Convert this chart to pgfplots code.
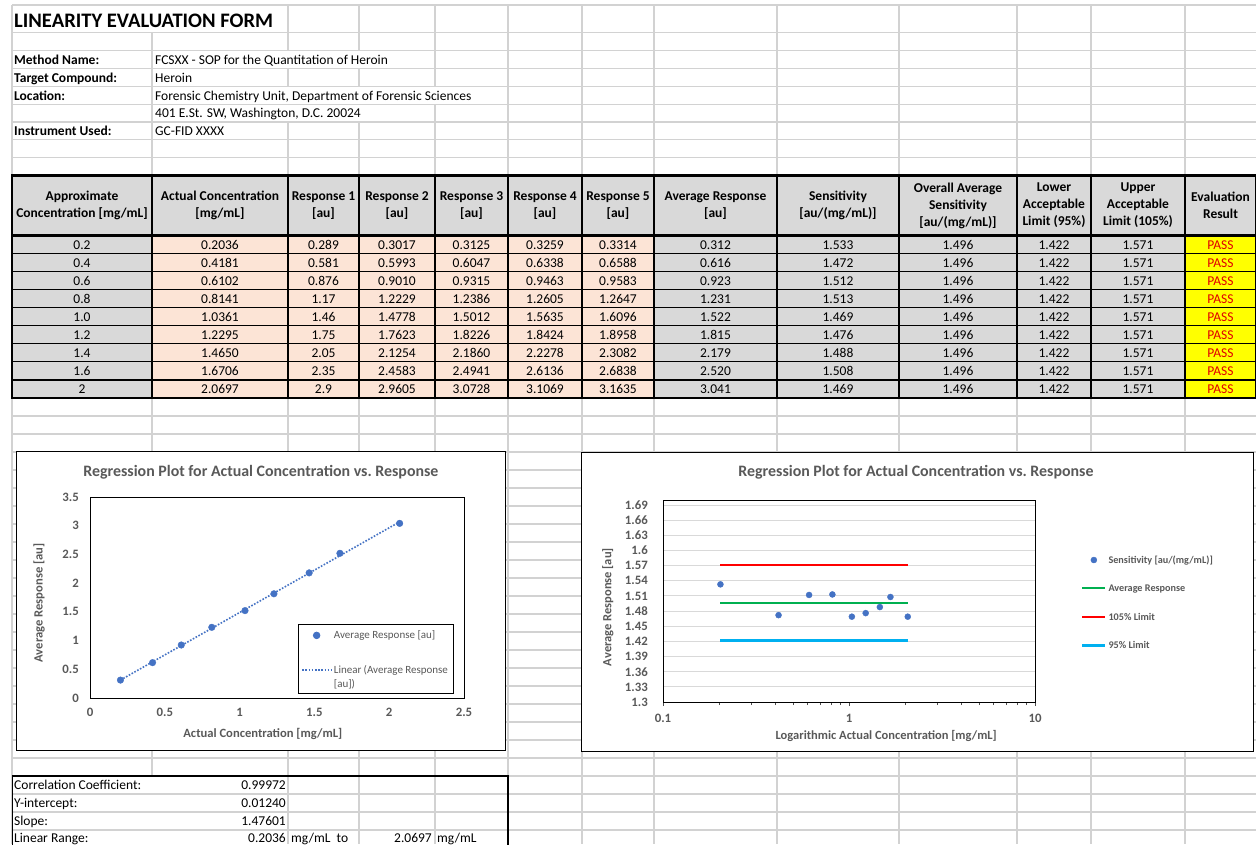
\documentclass[border=0pt]{standalone}
\usepackage{pgfplots}
\pgfplotsset{compat=1.18}
\usepackage{fontspec}
\setmainfont{Carlito}
\definecolor{gridc}{RGB}{210,210,210}
\definecolor{hdr}{RGB}{217,217,217}
\definecolor{peach}{RGB}{252,228,214}
\definecolor{yel}{RGB}{255,255,0}
\definecolor{passc}{RGB}{225,0,0}
\definecolor{ctext}{RGB}{89,89,89}
\definecolor{xblue}{RGB}{68,114,196}
\definecolor{xgreen}{RGB}{0,176,80}
\definecolor{xred}{RGB}{255,0,0}
\definecolor{xcyan}{RGB}{0,176,240}
\definecolor{pgrid}{RGB}{217,217,217}
\newcommand{\fs}[1]{\fontsize{#1}{#1}\selectfont}
\pgfplotsset{
 imgmarkA/.style={legend image code/.code={\draw[mark repeat=2,mark phase=2,##1] plot coordinates {(0pt,3.5pt) (14.5pt,3.5pt) (29pt,3.5pt)};}},
 imglineA/.style={legend image code/.code={\draw[##1] (0pt,3.5pt) -- (29pt,3.5pt);}},
 imgmarkB/.style={legend image code/.code={\draw[mark repeat=2,mark phase=2,##1] plot coordinates {(0pt,3.3pt) (11.5pt,3.3pt) (23pt,3.3pt)};}},
 imglineB/.style={legend image code/.code={\draw[##1] (0pt,3.3pt) -- (23pt,3.3pt);}},
}
\begin{document}
\begin{tikzpicture}
\useasboundingbox (0pt,0pt) rectangle (1256pt,-844pt);
\clip (0pt,0pt) rectangle (1256pt,-844pt);
\fill[white] (0pt,0pt) rectangle (1256pt,-844pt);
\begin{scope}[x=1pt,y=-1pt, every node/.style={inner sep=0pt, font=\fs{13.5}}]
 % ---------- sheet grid ----------
 \foreach \y in {5,32.5,50.5,68.5,86.5,104.3,122,139.7,157.5,175.5}
   \draw[gridc,line width=1.2pt] (12,\y) -- (1256,\y);
 \foreach \k in {0,...,25}
   \draw[gridc,line width=1.2pt] (12,{398+18*\k}) -- (1256,{398+18*\k});
 \foreach \x in {12,288,359,435,508,582,654,777,899,1017,1091,1185}
   \draw[gridc,line width=1.2pt] (\x,5) -- (\x,844);
 \draw[gridc,line width=1.2pt] (152,32.5) -- (152,776);
 % text overflow hides grid lines
 \fill[white] (152.8,51.2) rectangle (434.2,67.8);
 \fill[white] (152.8,87.2) rectangle (507.2,103.6);
 \fill[white] (152.8,105.0) rectangle (434.2,121.3);
 % ---------- header block ----------
 \node[anchor=base west, font=\bfseries\fs{20.6}] at (14,27.5) {LINEARITY EVALUATION FORM};
 \node[anchor=base west, font=\bfseries\fs{13.5}] at (14,64) {Method Name:};
 \node[anchor=base west, font=\bfseries\fs{13.5}] at (14,82) {Target Compound:};
 \node[anchor=base west, font=\bfseries\fs{13.5}] at (14,100) {Location:};
 \node[anchor=base west, font=\bfseries\fs{13.5}] at (14,135.3) {Instrument Used:};
 \node[anchor=base west] at (155,64) {FCSXX - SOP for the Quantitation of Heroin};
 \node[anchor=base west] at (155,82) {Heroin};
 \node[anchor=base west] at (155,100) {Forensic Chemistry Unit, Department of Forensic Sciences};
 \node[anchor=base west] at (155,117.5) {401 E.St. SW, Washington, D.C. 20024};
 \node[anchor=base west] at (155,135.3) {GC-FID XXXX};
 % ---------- data table ----------
 \fill[hdr] (12,175.5) rectangle (1256,235.5);
 \foreach \pa/\pb/\pc/\pd/\pe/\pf/\pg/\ph/\ps [count=\i] in {
 0.2/0.2036/0.289/0.3017/0.3125/0.3259/0.3314/0.312/1.533,
 0.4/0.4181/0.581/0.5993/0.6047/0.6338/0.6588/0.616/1.472,
 0.6/0.6102/0.876/0.9010/0.9315/0.9463/0.9583/0.923/1.512,
 0.8/0.8141/1.17/1.2229/1.2386/1.2605/1.2647/1.231/1.513,
 1.0/1.0361/1.46/1.4778/1.5012/1.5635/1.6096/1.522/1.469,
 1.2/1.2295/1.75/1.7623/1.8226/1.8424/1.8958/1.815/1.476,
 1.4/1.4650/2.05/2.1254/2.1860/2.2278/2.3082/2.179/1.488,
 1.6/1.6706/2.35/2.4583/2.4941/2.6136/2.6838/2.520/1.508,
 2/2.0697/2.9/2.9605/3.0728/3.1069/3.1635/3.041/1.469}
 {
  \pgfmathsetmacro{\yb}{235.5+18.05*\i}
  \pgfmathsetmacro{\yt}{\yb-18.05}
  \pgfmathsetmacro{\yl}{\yb-4.3}
  \fill[hdr] (12,\yt) rectangle (152,\yb);
  \fill[peach] (152,\yt) rectangle (654,\yb);
  \fill[hdr] (654,\yt) rectangle (1185,\yb);
  \fill[yel] (1185,\yt) rectangle (1256,\yb);
  \node[anchor=base] at (82,\yl) {\pa};
  \node[anchor=base] at (220,\yl) {\pb};
  \node[anchor=base] at (323.5,\yl) {\pc};
  \node[anchor=base] at (397,\yl) {\pd};
  \node[anchor=base] at (471.5,\yl) {\pe};
  \node[anchor=base] at (545,\yl) {\pf};
  \node[anchor=base] at (618,\yl) {\pg};
  \node[anchor=base] at (715.5,\yl) {\ph};
  \node[anchor=base] at (838,\yl) {\ps};
  \node[anchor=base] at (958,\yl) {1.496};
  \node[anchor=base] at (1054,\yl) {1.422};
  \node[anchor=base] at (1138,\yl) {1.571};
  \node[anchor=base, text=passc] at (1220.5,\yl) {PASS};
 }
 \foreach \x in {152,288,359,435,508,582,654,777,899,1017,1091,1185}
   \draw[black,line width=1.2pt] (\x,175.5) -- (\x,398);
 \foreach \i in {1,...,8}
   \draw[black,line width=1.2pt] (12,{235.5+18.05*\i}) -- (1256,{235.5+18.05*\i});
 \draw[black,line width=2.4pt] (12,175.5) rectangle (1256,398);
 \draw[black,line width=2.4pt] (12,235.5) -- (1256,235.5);
 \begin{scope}[every node/.style={inner sep=0pt, align=center, font=\bfseries\fontsize{13.5}{17}\selectfont}]
 \node at (82,205.5) {Approximate\\Concentration [mg/mL]};
 \node at (220,205.5) {Actual Concentration\\{}[mg/mL]};
 \node at (323.5,205.5) {Response 1\\{}[au]};
 \node at (397,205.5) {Response 2\\{}[au]};
 \node at (471.5,205.5) {Response 3\\{}[au]};
 \node at (545,205.5) {Response 4\\{}[au]};
 \node at (618,205.5) {Response 5\\{}[au]};
 \node at (715.5,205.5) {Average Response\\{}[au]};
 \node at (838,205.5) {Sensitivity\\{}[au/(mg/mL)]};
 \node at (958,205.5) {Overall Average\\Sensitivity\\{}[au/(mg/mL)]};
 \node at (1054,205.5) {Lower\\Acceptable\\Limit (95\%)};
 \node at (1138,205.5) {Upper\\Acceptable\\Limit (105\%)};
 \node at (1220.5,205.5) {Evaluation\\Result};
 \end{scope}
 % ---------- bottom table ----------
 \draw[black,line width=2.4pt] (12,776) -- (508,776) -- (508,850);
 \draw[black,line width=1pt] (12,776) -- (12,850);
 \node[anchor=base west] at (14,789.5) {Correlation Coefficient:};
 \node[anchor=base west] at (14,807.5) {Y-intercept:};
 \node[anchor=base west] at (14,825.5) {Slope:};
 \node[anchor=base west] at (14,842.5) {Linear Range:};
 \node[anchor=base east] at (286,789.5) {0.99972};
 \node[anchor=base east] at (286,807.5) {0.01240};
 \node[anchor=base east] at (286,825.5) {1.47601};
 \node[anchor=base east] at (286,842.5) {0.2036};
 \node[anchor=base west] at (291,842.5) {mg/mL\ \ to};
 \node[anchor=base east] at (432,842.5) {2.0697};
 \node[anchor=base west] at (437,842.5) {mg/mL};
 % ---------- chart frames ----------
 \draw[black,line width=0.9pt,fill=white] (16,451) rectangle (505,750);
 \draw[black,line width=0.9pt,fill=white] (581,452) rectangle (1253,751);
\end{scope}

% ================= Chart 1 =================
\begin{axis}[
 at={(90pt,-698pt)}, anchor=south west, scale only axis, width=374pt, height=201pt,
 xmin=0, xmax=2.5, ymin=0, ymax=3.5,
 xtick={0,0.5,1,1.5,2,2.5}, xticklabels={0,0.5,1,1.5,2,2.5},
 ytick={0,0.5,1,1.5,2,2.5,3,3.5}, yticklabels={0,0.5,1,1.5,2,2.5,3,3.5},
 major tick length=0pt,
 axis line style={black,line width=0.8pt},
 tick label style={font=\bfseries\fs{12.8}, text=ctext, inner sep=0pt},
 yticklabel style={anchor=east, xshift=-11pt},
 xticklabel style={anchor=north, yshift=-10pt},
 title={Regression Plot for Actual Concentration vs.\ Response},
 title style={at={(rel axis cs:0.457,1)}, anchor=base, yshift=15pt, font=\bfseries\fs{15.9}, text=ctext, inner sep=0pt},
 xlabel={Actual Concentration [mg/mL]},
 xlabel style={at={(rel axis cs:0.462,0)}, anchor=base, yshift=-39pt, font=\bfseries\fs{12.6}, text=ctext, inner sep=0pt},
 ylabel={Average Response [au]},
 ylabel style={at={(rel axis cs:-0.136,0.473)}, anchor=center, font=\bfseries\fs{12.6}, text=ctext, inner sep=0pt},
 legend style={at={(rel axis cs:0.556,0.368)}, anchor=north west, draw=black, line width=0.8pt, fill=white,
   font=\fontsize{11}{14}\selectfont, text=ctext, row sep=21pt, inner xsep=3pt, inner ysep=4.5pt, cells={anchor=base west}},
]
\addplot[only marks, mark=*, mark size=3.3pt, color=xblue, imgmarkA]
  coordinates {(0.2036,0.312) (0.4181,0.616) (0.6102,0.923) (0.8141,1.231) (1.0361,1.522) (1.2295,1.815) (1.4650,2.179) (1.6706,2.520) (2.0697,3.041)};
\addlegendentry{Average Response [au]}
\addplot[xblue, line width=1.6pt, dash pattern=on 1.6pt off 1.6pt, imglineA]
  coordinates {(0.2036,0.3129) (2.0697,3.0673)};
\addlegendentry[text depth=13pt]{\parbox[t]{114pt}{Linear (Average Response\\{}[au])}}
\end{axis}

% ================= Chart 2 =================
\begin{axis}[
 at={(663pt,-702pt)}, anchor=south west, scale only axis, width=372pt, height=202pt,
 xmode=log, xmin=0.1, xmax=10, ymin=1.3, ymax=1.7,
 xtick={0.1,1,10}, xticklabels={0.1,1,10},
 minor xtick={0.2,0.3,0.4,0.5,0.6,0.7,0.8,0.9,2,3,4,5,6,7,8,9},
 xtick pos=bottom,
 ytick={1.3,1.33,1.36,1.39,1.42,1.45,1.48,1.51,1.54,1.57,1.6,1.63,1.66,1.69},
 yticklabels={1.3,1.33,1.36,1.39,1.42,1.45,1.48,1.51,1.54,1.57,1.6,1.63,1.66,1.69},
 ymajorgrids, major grid style={pgrid, line width=1pt},
 axis line style={black,line width=0.8pt},
 tick align=outside, major tick length=4pt, minor tick length=3pt,
 xtick style={black!70, line width=0.7pt},
 ytick style={draw=none},
 tick label style={font=\bfseries\fs{12.8}, text=ctext, inner sep=0pt},
 yticklabel style={anchor=east, xshift=-11pt},
 xticklabel style={anchor=north, yshift=-8pt},
 title={Regression Plot for Actual Concentration vs.\ Response},
 title style={at={(rel axis cs:0.68,1)}, anchor=base, yshift=17.5pt, font=\bfseries\fs{15.9}, text=ctext, inner sep=0pt},
 xlabel={Logarithmic Actual Concentration [mg/mL]},
 xlabel style={at={(rel axis cs:0.6,0)}, anchor=base, yshift=-37pt, font=\bfseries\fs{12.5}, text=ctext, inner sep=0pt},
 ylabel={Average Response [au]},
 ylabel style={at={(rel axis cs:-0.148,0.47)}, anchor=center, font=\bfseries\fs{12.5}, text=ctext, inner sep=0pt},
 legend style={at={(rel axis cs:1.1237,0.735)}, anchor=north west, draw=none, fill=none,
   font=\bfseries\fs{10.2}, text=ctext, row sep=16pt, inner sep=0pt, cells={anchor=base west}},
]
\addplot[only marks, mark=*, mark size=3pt, color=xblue, imgmarkB]
  coordinates {(0.2036,1.533) (0.4181,1.472) (0.6102,1.512) (0.8141,1.513) (1.0361,1.469) (1.2295,1.476) (1.4650,1.488) (1.6706,1.508) (2.0697,1.469)};
\addlegendentry{Sensitivity [au/(mg/mL)]}
\addplot[xgreen, line width=2.3pt, imglineB]
  coordinates {(0.2036,1.496) (2.0697,1.496)};
\addlegendentry{Average Response}
\addplot[xred, line width=2.3pt, imglineB]
  coordinates {(0.2036,1.571) (2.0697,1.571)};
\addlegendentry{105\% Limit}
\addplot[xcyan, line width=2.3pt, imglineB]
  coordinates {(0.2036,1.422) (2.0697,1.422)};
\addlegendentry{95\% Limit}
\end{axis}
\end{tikzpicture}
\end{document}
